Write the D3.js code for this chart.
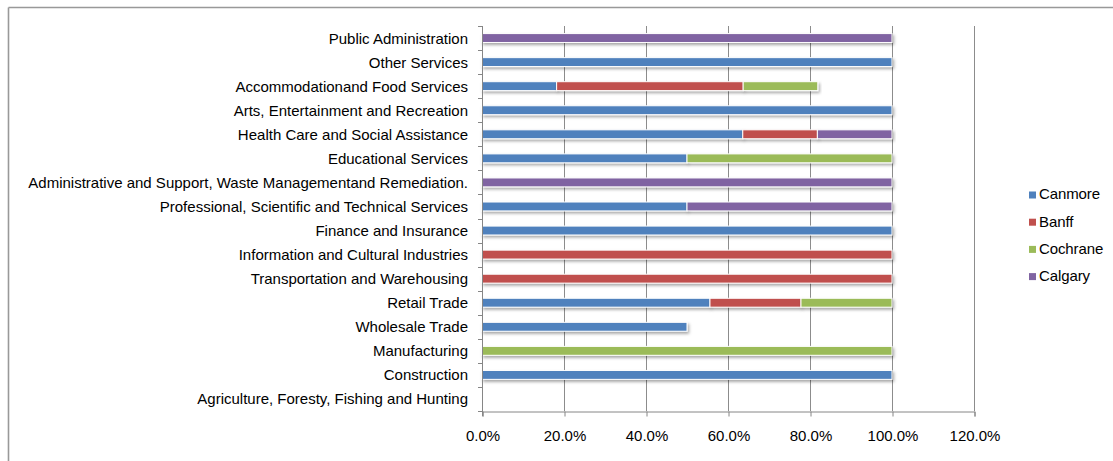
<!DOCTYPE html>
<html>
<head>
<meta charset="utf-8">
<script src="https://cdn.jsdelivr.net/npm/d3@7"></script>
<style>
  html, body { margin: 0; padding: 0; background: #fff; }
  svg { display: block; font-family: "Liberation Sans", Arial, sans-serif; }
</style>
</head>
<body>
<svg id="chart" width="1113" height="461"></svg>
<script>
// Industry categories, top to bottom
const categories = [
  "Public Administration",
  "Other Services",
  "Accommodationand Food Services",
  "Arts, Entertainment and Recreation",
  "Health Care and Social Assistance",
  "Educational Services",
  "Administrative and Support, Waste Managementand Remediation.",
  "Professional, Scientific and Technical Services",
  "Finance and Insurance",
  "Information and Cultural Industries",
  "Transportation and Warehousing",
  "Retail Trade",
  "Wholesale Trade",
  "Manufacturing",
  "Construction",
  "Agriculture, Foresty, Fishing and Hunting"
];

// Share of each industry by town (percent), same order as categories
const canmore  = [0, 100, 18.2, 100, 63.6, 50, 0, 50, 100, 0, 0, 55.6, 50, 0, 100, 0];
const banff    = [0, 0, 45.5, 0, 18.2, 0, 0, 0, 0, 100, 100, 22.2, 0, 0, 0, 0];
const cochrane = [0, 0, 18.2, 0, 0, 50, 0, 0, 0, 0, 0, 22.2, 0, 100, 0, 0];
const calgary  = [100, 0, 0, 0, 18.2, 0, 100, 50, 0, 0, 0, 0, 0, 0, 0, 0];

const seriesNames = ["Canmore", "Banff", "Cochrane", "Calgary"];
const seriesColors = ["#4f81bd", "#c0504d", "#9bbb59", "#8064a2"];
const xTicks = [0, 20, 40, 60, 80, 100, 120];

const rows = categories.map((c, i) => ({
  category: c,
  Canmore: canmore[i], Banff: banff[i], Cochrane: cochrane[i], Calgary: calgary[i]
}));
const stacked = d3.stack().keys(seriesNames)(rows);

const svg = d3.select("#chart");
const plot = { left: 482, right: 974, top: 26, bottom: 411 };
const fontSize = 15;

// outer chart frame (top and left edges visible)
svg.append("line").attr("x1", 8.5).attr("x2", 1113).attr("y1", 7.5).attr("y2", 7.5)
  .attr("stroke", "#999").attr("stroke-width", 1.6);
svg.append("line").attr("x1", 8.5).attr("x2", 8.5).attr("y1", 7.5).attr("y2", 461)
  .attr("stroke", "#999").attr("stroke-width", 1.6);

const x = d3.scaleLinear().domain([0, 120]).range([plot.left, plot.right]);
const y = d3.scaleBand().domain(categories).range([plot.top, plot.bottom]).paddingInner(0.63).paddingOuter(0.315);
const yb = d3.scaleBand().domain(categories).range([plot.top, plot.bottom]);

// drop shadow for bars
const defs = svg.append("defs");
const f = defs.append("filter").attr("id", "shadow").attr("x", "-5%").attr("y", "-50%").attr("width", "110%").attr("height", "250%");
f.append("feDropShadow").attr("dx", 1.5).attr("dy", 2).attr("stdDeviation", 1.6)
  .attr("flood-color", "#000").attr("flood-opacity", 0.35);

// vertical gridlines
svg.append("g").selectAll("line").data(xTicks.slice(1)).join("line")
  .attr("x1", d => x(d) + 0.5).attr("x2", d => x(d) + 0.5)
  .attr("y1", plot.top).attr("y2", plot.bottom)
  .attr("stroke", "#8c8c8c").attr("stroke-width", 1);

// bars
const bh = y.bandwidth();
svg.append("g").selectAll("g").data(stacked).join("g")
  .attr("fill", (d, i) => seriesColors[i])
  .selectAll("rect").data(d => d.filter(s => s[1] - s[0] > 0)).join("rect")
  .attr("x", d => x(d[0]))
  .attr("width", d => x(d[1]) - x(d[0]))
  .attr("y", d => y(d.data.category))
  .attr("height", bh)
  .attr("stroke", "#fff").attr("stroke-width", 1)
  .attr("filter", "url(#shadow)");

// x axis
const xAxis = d3.axisBottom(x).tickValues(xTicks).tickFormat(d => d.toFixed(1) + "%").tickSizeOuter(0).tickSize(5);
const gx = svg.append("g").attr("transform", `translate(0.5,${plot.bottom + 0.5})`).call(xAxis);
gx.select(".domain").attr("stroke", "#868686");
gx.selectAll(".tick line").attr("stroke", "#868686");
gx.selectAll(".tick text").attr("font-size", fontSize).attr("fill", "#000").attr("dy", "1.45em")
  .attr("font-family", "Liberation Sans, Arial, sans-serif");

// y axis: ticks at band boundaries
svg.append("line").attr("x1", plot.left + 0.5).attr("x2", plot.left + 0.5)
  .attr("y1", plot.top).attr("y2", plot.bottom + 5).attr("stroke", "#868686");
const bounds = categories.map(c => yb(c)).concat([plot.bottom]);
svg.append("g").selectAll("line").data(bounds).join("line")
  .attr("x1", plot.left - 4).attr("x2", plot.left)
  .attr("y1", d => Math.round(d) + 0.5).attr("y2", d => Math.round(d) + 0.5)
  .attr("stroke", "#868686");

// category labels
svg.append("g").selectAll("text").data(categories).join("text")
  .attr("x", 468)
  .attr("y", c => yb(c) + yb.bandwidth() / 2 + 1.5)
  .attr("text-anchor", "end").attr("dominant-baseline", "middle")
  .attr("font-size", fontSize).attr("fill", "#000")
  .text(c => c);

// legend
const lg = svg.append("g").selectAll("g").data(seriesNames).join("g")
  .attr("transform", (d, i) => `translate(1029,${195 + i * 27.2})`);
lg.append("rect").attr("x", 0).attr("y", -3.5).attr("width", 7).attr("height", 7)
  .attr("fill", (d, i) => seriesColors[i]);
lg.append("text").attr("x", 10).attr("y", 0.5).attr("dominant-baseline", "middle")
  .attr("font-size", fontSize).attr("fill", "#000").attr("letter-spacing", -0.1).text(d => d);
</script>
</body>
</html>
